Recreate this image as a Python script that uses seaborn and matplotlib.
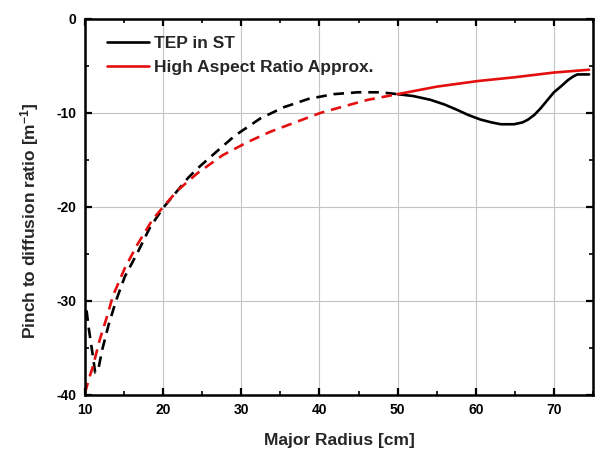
import matplotlib
matplotlib.use('Agg')

import matplotlib.pyplot as plt
import seaborn as sns
import numpy as np
import pandas as pd

# Datos (radio mayor [cm], razon pinch/difusion [m^-1])
tep_dash_x = [10.2, 10.5, 11.0, 11.3, 11.7, 12.2, 13.0, 14.0, 15.1, 16.7, 18.3, 20.0,
              21.5, 23.2, 24.4, 26.3, 29.2, 32.4, 35.4, 38.6, 41.8, 44.9, 47.8, 50.0]
tep_dash_y = [-31.0, -33.0, -35.8, -37.6, -37.3, -35.2, -32.6, -29.9, -27.4, -24.9, -22.2, -20.1,
              -18.6, -16.9, -15.9, -14.5, -12.4, -10.6, -9.4, -8.5, -8.0, -7.8, -7.8, -8.0]
tep_solid_x = [50.0, 52.0, 54.2, 56.0, 57.7, 59.0, 60.6, 62.0, 63.2, 64.9, 66.0, 66.7,
               67.5, 68.3, 69.2, 70.0, 71.0, 71.8, 72.5, 73.0, 74.5]
tep_solid_y = [-8.0, -8.2, -8.6, -9.1, -9.7, -10.2, -10.7, -11.0, -11.2, -11.2, -11.0, -10.7,
               -10.2, -9.5, -8.6, -7.8, -7.1, -6.5, -6.1, -5.9, -5.9]

har_dash_x = [10.0, 10.5, 11.0, 11.9, 12.8, 13.6, 15.1, 16.7, 18.6, 20.0, 21.9, 24.4,
              27.6, 30.8, 33.7, 36.9, 40.1, 43.1, 46.2, 50.0]
har_dash_y = [-39.8, -38.3, -37.0, -34.1, -31.7, -29.4, -26.5, -24.0, -21.4, -20.0, -18.2, -16.4,
              -14.5, -13.1, -12.0, -11.0, -10.0, -9.3, -8.6, -8.0]
har_solid_x = [50.0, 55.0, 60.3, 65.0, 70.0, 74.5]
har_solid_y = [-8.0, -7.2, -6.6, -6.2, -5.7, -5.4]

sns.set_style('ticks')
plt.rcParams['font.family'] = ['Liberation Sans', 'DejaVu Sans']
plt.rcParams['font.weight'] = 'bold'
plt.rcParams['axes.unicode_minus'] = False
plt.rcParams['mathtext.fontset'] = 'custom'
plt.rcParams['mathtext.rm'] = 'Liberation Sans:bold'
plt.rcParams['mathtext.default'] = 'rm'

fig = plt.figure(figsize=(6.14, 4.57), dpi=100)
ax = fig.add_axes([0.1384, 0.1357, 0.8274, 0.8228])

lw = 1.9
dash = (4, 2.6)
rojo = '#e3100f'

# TEP en ST
sns.lineplot(x=tep_dash_x, y=tep_dash_y, color='black', lw=lw, ax=ax, sort=False,
             linestyle=(0, dash))
sns.lineplot(x=tep_solid_x, y=tep_solid_y, color='black', lw=lw, ax=ax, sort=False,
             label='TEP in ST')
# Aproximacion de alta razon de aspecto
sns.lineplot(x=har_dash_x, y=har_dash_y, color=rojo, lw=lw, ax=ax, sort=False,
             linestyle=(0, dash))
sns.lineplot(x=har_solid_x, y=har_solid_y, color=rojo, lw=lw, ax=ax, sort=False,
             label='High Aspect Ratio Approx.')

ax.set_xlim(10, 75)
ax.set_ylim(-40, 0)
ax.set_xticks([10, 20, 30, 40, 50, 60, 70])
ax.set_yticks([-40, -30, -20, -10, 0])
ax.set_xticks([15, 25, 35, 45, 55, 65, 75], minor=True)
ax.set_yticks([-35, -25, -15, -5], minor=True)

ax.grid(True, which='major', color='#c4c4c4', lw=0.8)
ax.set_axisbelow(True)

for s in ax.spines.values():
    s.set_visible(True)
    s.set_linewidth(1.8)
    s.set_color('black')

ax.tick_params(which='major', direction='in', length=5, width=1.6, top=True, right=True,
               labelsize=10, pad=6, colors='black')
ax.tick_params(which='minor', direction='in', length=3, width=1.4, top=True, right=True)
for t in ax.get_xticklabels() + ax.get_yticklabels():
    t.set_fontweight('bold')

ax.set_xlabel('Major Radius [cm]', fontsize=12.5, fontweight='bold', labelpad=11)
ax.set_ylabel('Pinch to diffusion ratio [m$^{-1}$]', fontsize=12.5, fontweight='bold')
ax.yaxis.set_label_coords(-0.087, 0.463)

leg = ax.legend(loc='upper left', bbox_to_anchor=(0.01, 1.0), frameon=False,
                handlelength=2.4, handletextpad=0.3, labelspacing=0.5,
                borderaxespad=0.6, prop={'weight': 'bold', 'size': 12.5})

fig.savefig('out.png', dpi=100)
